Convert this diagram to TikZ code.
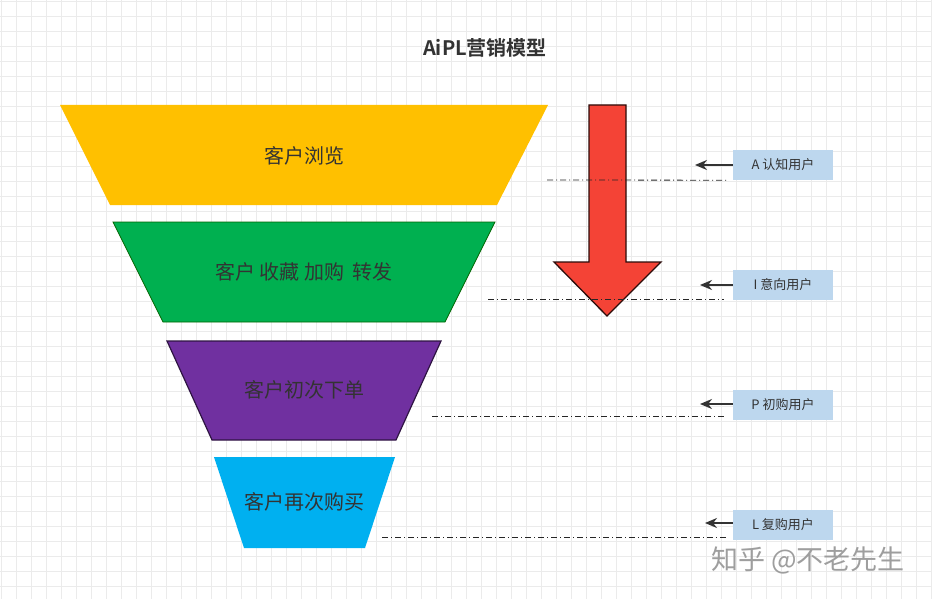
\documentclass[tikz,border=0pt]{standalone}
\usepackage{fontspec}
\setmainfont{Noto Sans CJK SC}[BoldFont={Noto Sans CJK SC Bold}]
\usetikzlibrary{arrows.meta, positioning}
\definecolor{tierYellow}{RGB}{255, 192, 0}
\definecolor{tierGreen}{RGB}{0, 176, 80}
\definecolor{tierPurple}{RGB}{112, 48, 160}
\definecolor{tierBlue}{RGB}{0, 176, 240}
\definecolor{userBlue}{RGB}{189, 215, 238}
\definecolor{arrowRed}{RGB}{244, 67, 54}
\definecolor{textGray}{RGB}{51, 51, 51}
\definecolor{gridGray}{RGB}{235, 235, 235}

\begin{document}
\begin{tikzpicture}[x=1pt, y=-1pt,
    tiertext/.style={text=textGray, font=\fontsize{20}{24}\selectfont},
    userbox/.style={fill=userBlue, minimum width=100pt, minimum height=30pt, inner sep=0pt, text=textGray, font=\fontsize{13}{15}\selectfont},
    guide/.style={dash pattern=on 6pt off 3pt on 1pt off 3pt, line width=0.8pt, black!85},
    pointer/.style={-{Stealth[length=12pt, width=10pt]}, line width=1.8pt, textGray}]
            % Background grid
            \useasboundingbox[fill=white] (0,0) rectangle (932,599);
            \foreach \gx in {1,16,...,931} \draw[gridGray, line width=0.6pt] (\gx,0) -- (\gx,599);
            \foreach \gy in {1,16,...,598} \draw[gridGray, line width=0.6pt] (0,\gy) -- (932,\gy);

            % Title
            \node[text=textGray, font=\fontsize{20}{24}\selectfont\bfseries] (title) at (485,48) {AiPL营销模型};

            % Funnel tiers
            \fill[tierYellow] (60,105) -- (548,105) -- (497,205) -- (110,205) -- cycle;
            \node[tiertext] (browse) at (304,156) {客户浏览};
            \draw[fill=tierGreen, draw=green!40!black, line width=0.8pt] (113,222) -- (495,222) -- (445,322) -- (163,322) -- cycle;
            \node[tiertext] (collect) at (304,272) {客户\ 收藏\ 加购\ \ 转发};
            \draw[fill=tierPurple, draw=black!30!tierPurple!60!black, line width=1.2pt] (167,341) -- (441,341) -- (396,440) -- (212,440) -- cycle;
            \node[tiertext] (first) at (304,390) {客户初次下单};
            \fill[tierBlue] (214,457) -- (395,457) -- (365,548) -- (244,548) -- cycle;
            \node[tiertext] (again) at (304,502) {客户再次购买};

            % Big red arrow
            \draw[fill=arrowRed, draw=black!70!arrowRed!60!black, line width=1.3pt, line join=miter]
                (589,105) -- (626,105) -- (626,262) -- (661,262) -- (607,316) -- (554,262) -- (589,262) -- cycle;

            % User boxes
            \node[userbox] (aware) at (783,165) {A 认知用户};
            \node[userbox] (intent) at (783,285) {I 意向用户};
            \node[userbox] (purchase) at (783,405) {P 初购用户};
            \node[userbox] (loyal) at (783,525) {L 复购用户};

            % Guide lines
            \coordinate (awareEnd) at (547,180);
            \coordinate (intentEnd) at (488,299);
            \coordinate (purchaseEnd) at (432,416);
            \coordinate (loyalEnd) at (382,537);
            \draw[guide] (awareEnd) -- (aware.south west -| 726,0);
            \draw[guide] (intentEnd) -- (intentEnd -| 724,0);
            \draw[guide] (purchaseEnd) -- (purchaseEnd -| 726,0);
            \draw[guide] (loyalEnd) -- (loyalEnd -| 726,0);

            % Pointers
            \coordinate (awareTip) at (695,165);
            \coordinate (intentTip) at (700,285);
            \coordinate (purchaseTip) at (700,404);
            \coordinate (loyalTip) at (705,523);
            \draw[pointer] (aware.west |- awareTip) -- (awareTip);
            \draw[pointer] (intent.west |- intentTip) -- (intentTip);
            \draw[pointer] (purchase.west |- purchaseTip) -- (purchaseTip);
            \draw[pointer] (loyal.west |- loyalTip) -- (loyalTip);

            % Watermark
            \node[text=black!38, font=\fontsize{27}{32}\selectfont] (mark) at (808,560) {知乎 @不老先生};
        \end{tikzpicture}
\end{document}
